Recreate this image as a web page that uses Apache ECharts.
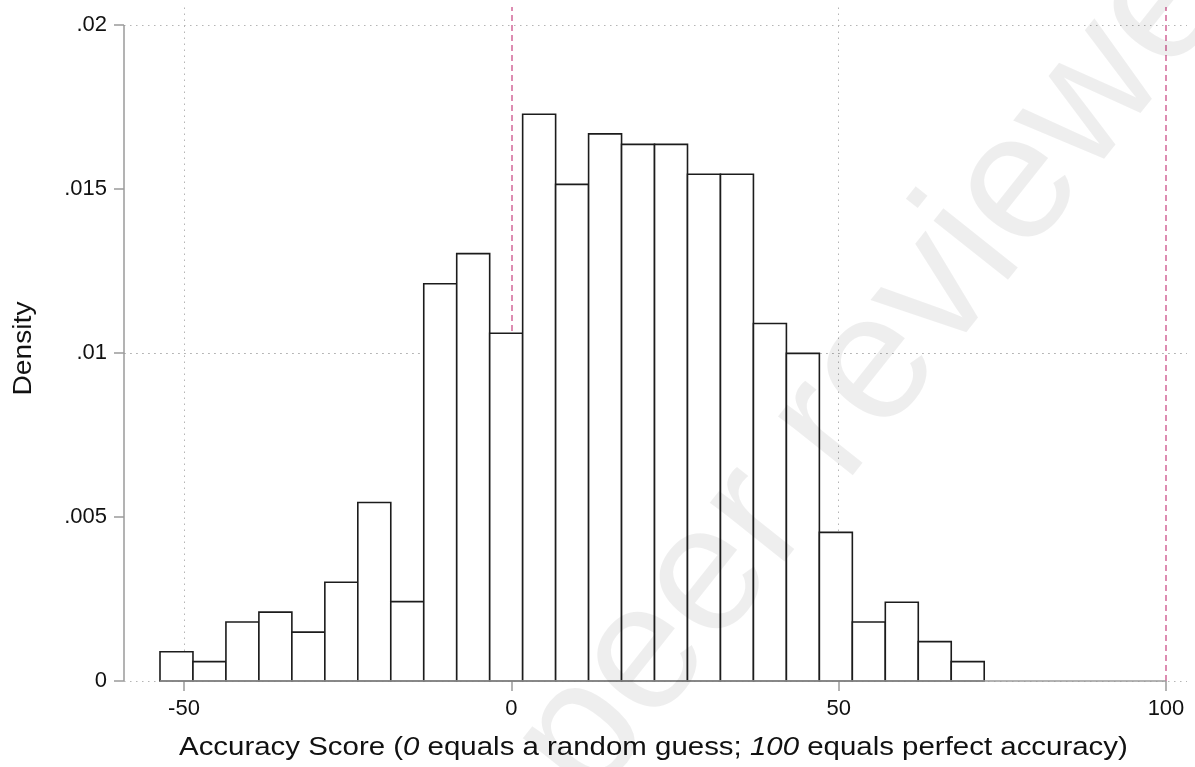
<!DOCTYPE html>
<html>
<head>
<meta charset="utf-8">
<script src="https://cdn.jsdelivr.net/npm/echarts@6/dist/echarts.min.js"></script>
<style>
html,body{margin:0;padding:0;background:#fff;}
#chart{width:1195px;height:767px;}
</style>
</head>
<body>
<div id="chart"></div>
<script>
// ---- data ----
const binStart = -53.666;      // left edge of first bin
const binWidth = 5.036;        // bin width
const density = [0.00089, 0.00059, 0.00180, 0.00210, 0.00149, 0.00301, 0.00544, 0.00242,
                 0.01211, 0.01303, 0.01060, 0.01728, 0.01514, 0.01668, 0.01636, 0.01636,
                 0.01545, 0.01545, 0.01090, 0.00999, 0.00453, 0.00180, 0.00240, 0.00120, 0.00059];
const xTicks = [-50, 0, 50, 100];
const xTickLabels = ['-50', '0', '50', '100'];
const yTicks = [0, 0.005, 0.01, 0.015, 0.02];
const yTickLabels = ['0', '.005', '.01', '.015', '.02'];
const refLines = [0, 100];
const xAxisRange = [-59.165, 103.21];
const yAxisRange = [0, 0.020549];
const xTitle = 'Accuracy Score ({i|0} equals a random guess; {i|100} equals perfect accuracy)';
const yTitle = 'Density';
const watermark = 'Not peer reviewed';

const FONT = '"Liberation Sans", Arial, Helvetica, sans-serif';
const AXIS_GREY = '#9a9a9a';

const bins = density.map((d, i) => [binStart + i * binWidth, binStart + (i + 1) * binWidth, d]);
const xDataMin = binStart;

function labelFor(ticks, labels, v) {
  const i = ticks.findIndex(t => Math.abs(t - v) < 1e-9);
  return i >= 0 ? labels[i] : '';
}

const chart = echarts.init(document.getElementById('chart'), null, {renderer: 'canvas'});

const option = {
  animation: false,
  backgroundColor: '#fff',
  grid: {left: 124, right: 8, top: 7, bottom: 86, containLabel: false},
  xAxis: {
    type: 'value',
    min: xAxisRange[0],
    max: xAxisRange[1],
    axisLine: {show: false, onZero: false},
    splitLine: {show: false},
    axisTick: {show: true, customValues: xTicks, length: 10, lineStyle: {color: AXIS_GREY, width: 1.5}},
    axisLabel: {
      customValues: xTicks, margin: 17, fontSize: 22, fontFamily: FONT, color: '#111',
      formatter: v => labelFor(xTicks, xTickLabels, v)
    }
  },
  yAxis: {
    type: 'value',
    min: yAxisRange[0],
    max: yAxisRange[1],
    axisLine: {show: false, onZero: false},
    splitLine: {show: false},
    axisTick: {show: true, customValues: yTicks, length: 10, lineStyle: {color: AXIS_GREY, width: 1.5}},
    axisLabel: {
      customValues: yTicks, margin: 17, fontSize: 22, fontFamily: FONT, color: '#111',
      formatter: v => labelFor(yTicks, yTickLabels, v)
    }
  },
  series: [
    {
      // dotted grid lines
      type: 'line', data: [], silent: true, z: 1,
      markLine: {
        z: 1, silent: true, symbol: ['none', 'none'], label: {show: false},
        emphasis: {disabled: true},
        lineStyle: {type: [1.5, 4.5], color: '#b5b5b5', width: 1},
        data: yTicks.map(v => ({yAxis: v})).concat(
          xTicks.filter(v => refLines.indexOf(v) < 0).map(v => ({xAxis: v})))
      }
    },
    {
      // pink dashed reference lines
      type: 'line', data: [], silent: true, z: 1,
      markLine: {
        z: 1, silent: true, symbol: ['none', 'none'], label: {show: false},
        emphasis: {disabled: true},
        lineStyle: {type: [6, 4], color: '#d5709f', width: 1.6},
        data: refLines.map(v => ({xAxis: v}))
      }
    },
    {
      type: 'custom',
      z: 3,
      silent: true,
      data: bins,
      encode: {x: [0, 1], y: 2},
      renderItem: function (params, api) {
        const x0 = api.value(0), x1 = api.value(1), h = api.value(2);
        const p0 = api.coord([x0, h]);
        const p1 = api.coord([x1, 0]);
        return {
          type: 'rect',
          shape: {x: p0[0], y: p0[1], width: p1[0] - p0[0], height: p1[1] - p0[1]},
          style: {fill: '#ffffff', stroke: '#1c1c1c', lineWidth: 1.6}
        };
      }
    },
    {
      // axis lines spanning the scale range
      type: 'line', data: [], silent: true, z: 5,
      markLine: {
        z: 5, silent: true, symbol: ['none', 'none'], label: {show: false},
        emphasis: {disabled: true},
        lineStyle: {type: 'solid', color: AXIS_GREY, width: 1.5},
        data: [
          [{coord: [xDataMin, 0]}, {coord: [xTicks[xTicks.length - 1], 0]}],
          [{coord: [xAxisRange[0], 0]}, {coord: [xAxisRange[0], yTicks[yTicks.length - 1]]}]
        ]
      }
    }
  ],
  graphic: [
    {
      type: 'text', x: 179, y: 748, scaleX: 1.132, z: 10, silent: true,
      style: {
        text: xTitle, fontSize: 26, fontFamily: FONT, fill: '#111',
        align: 'left', verticalAlign: 'middle', textAlign: 'left', textVerticalAlign: 'middle',
        rich: {i: {fontStyle: 'italic', fontSize: 26, fontFamily: FONT, fill: '#111'}}
      }
    },
    {
      type: 'text', x: 24, y: 348.5, rotation: Math.PI / 2, scaleX: 1.085, z: 10, silent: true,
      style: {
        text: yTitle, fontSize: 26, fontFamily: FONT, fill: '#111',
        align: 'center', verticalAlign: 'middle', textAlign: 'center', textVerticalAlign: 'middle'
      }
    },
    {
      type: 'text', x: 800, y: 462, rotation: 0.9, z: 100, silent: true,
      style: {
        text: watermark, fontSize: 180, fontFamily: FONT, fill: 'rgba(0,0,0,0.065)',
        align: 'center', verticalAlign: 'middle', textAlign: 'center', textVerticalAlign: 'middle'
      }
    }
  ]
};

chart.setOption(option);
</script>
</body>
</html>
